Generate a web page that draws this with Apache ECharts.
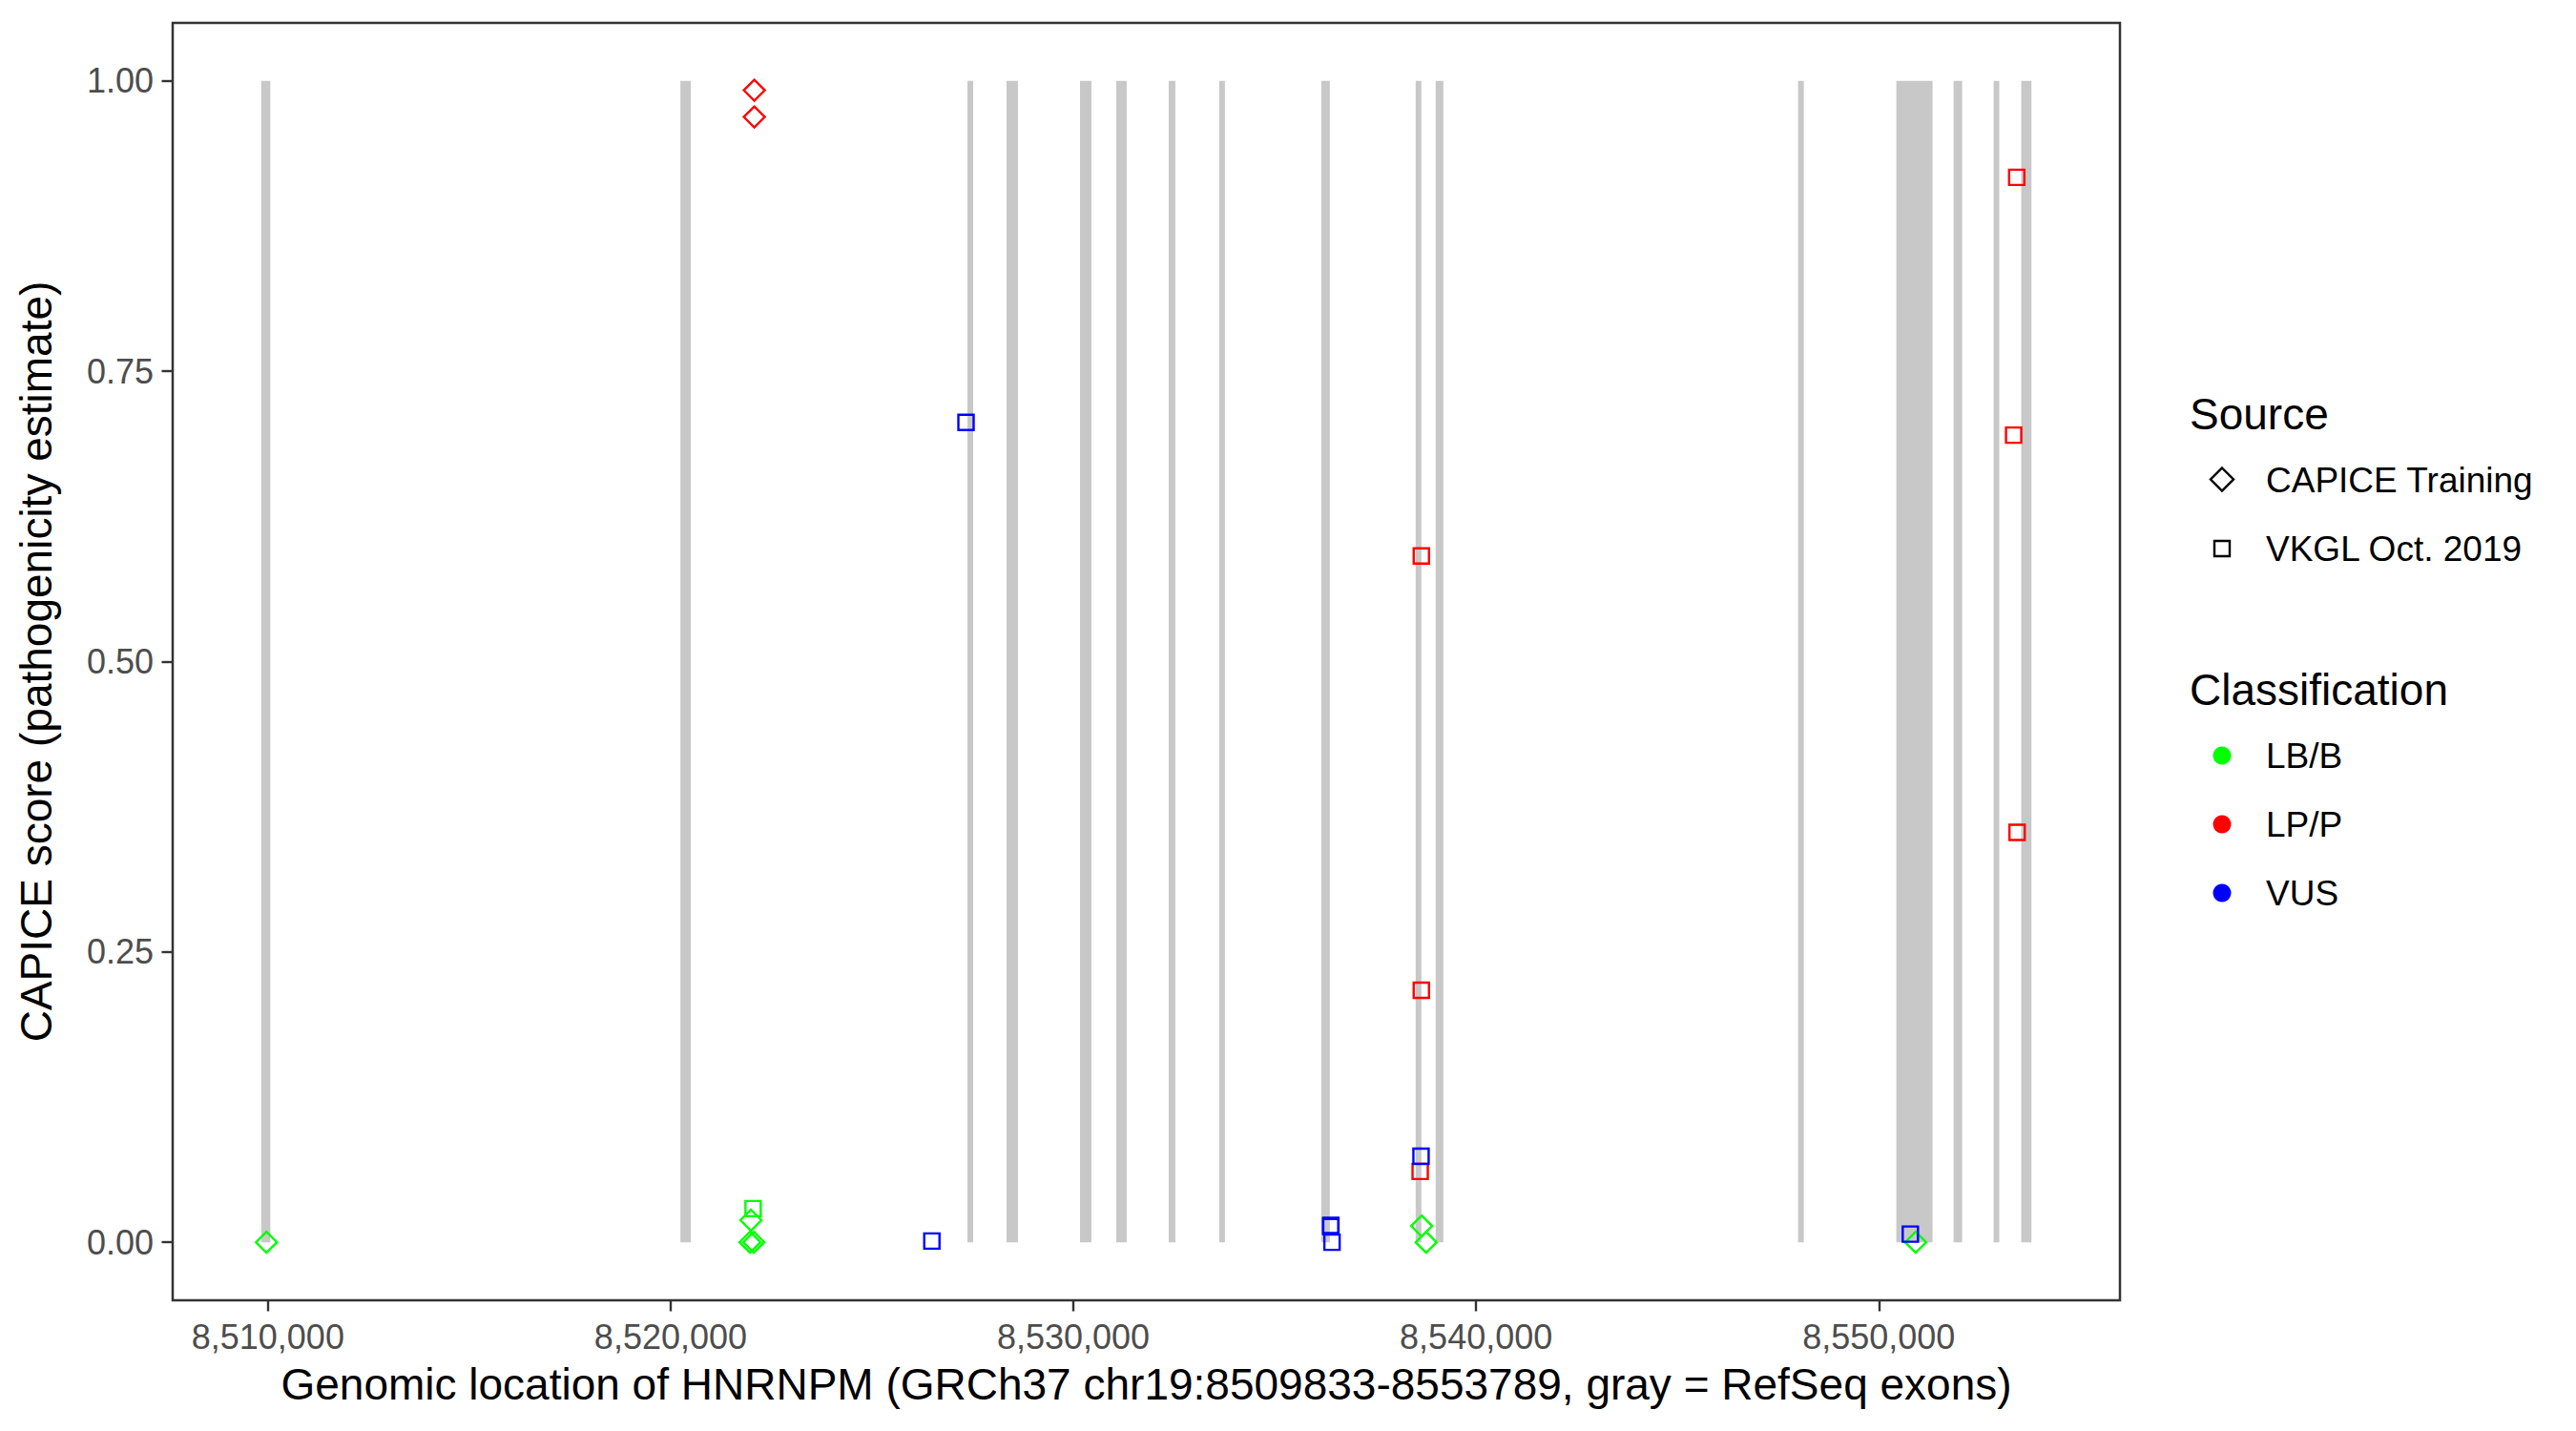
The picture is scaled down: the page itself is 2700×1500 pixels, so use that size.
<!DOCTYPE html>
<html>
<head>
<meta charset="utf-8">
<title>HNRNPM CAPICE scores</title>
<script src="https://cdn.jsdelivr.net/npm/echarts@6/dist/echarts.min.js"></script>
<style>
    html, body { margin: 0; padding: 0; background: #ffffff; }
    #chart { width: 2700px; height: 1500px; }
</style>
</head>
<body>
<div id="chart"></div>
<script>
// RefSeq exons (bp)
const exonStart = [8509833, 8520242, 8527369, 8528340, 8530164, 8531063, 8532366, 8533621,
    8536155, 8538499, 8538996, 8547995, 8550434, 8551855, 8552849, 8553536];
const exonEnd = [8510060, 8520502, 8527511, 8528624, 8530448, 8531324, 8532532, 8533763,
    8536368, 8538641, 8539186, 8548137, 8551334, 8552068, 8552991, 8553789];

// CAPICE Training (diamonds)
const capiceBenignPos = [8509964, 8521970, 8522065, 8521994, 8538648, 8538759, 8550914];
const capiceBenignScore = [0.0, 0.0, 0.0, 0.019, 0.014, 0.0, 0.0];
const capicePathoPos = [8522077, 8522077];
const capicePathoScore = [0.992, 0.969];

// VKGL Oct. 2019 (squares)
const vkglBenignPos = [8522047];
const vkglBenignScore = [0.029];
const vkglPathoPos = [8538611, 8538640, 8538640, 8553424, 8553347, 8553433];
const vkglPathoScore = [0.061, 0.591, 0.217, 0.917, 0.695, 0.353];
const vkglVusPos = [8526486, 8527334, 8536392, 8536392, 8536422, 8538632, 8550782];
const vkglVusScore = [0.001, 0.706, 0.0145, 0.0135, 0.0, 0.074, 0.007];

const xTicks = [8510000, 8520000, 8530000, 8540000, 8550000];
const yTicks = [0, 0.25, 0.5, 0.75, 1];

const geneStart = 8509833;
const geneEnd = 8553789;

const colors = { "LB/B": "#00FF00", "LP/P": "#FF0000", "VUS": "#0000FF" };
const font = "'Liberation Sans', Arial, Helvetica, sans-serif";

const pad = (geneEnd - geneStart) * 0.05;

const zip = (xs, ys) => xs.map((x, i) => [x, ys[i]]);

const pointSeries = (name, symbol, size, color, xs, ys) => ({
    type: "scatter",
    name: name,
    symbol: symbol,
    symbolSize: size,
    itemStyle: { color: "rgba(0,0,0,0)", borderColor: color, borderWidth: 2.4, opacity: 1 },
    emphasis: { disabled: true },
    data: zip(xs, ys),
    z: 3
});

const chart = echarts.init(document.getElementById("chart"), null, { renderer: "svg" });

// legend drawn by hand, like ggplot's two guides
const legendX = 2295;
const keyX = 2329;
const labelX = 2375;

const graphics = [
    { type: "text", x: legendX, y: 434, style: { text: "Source", font: "46px " + font, fill: "#000", verticalAlign: "middle" } },
    { type: "polygon", shape: { points: [[keyX, 490.5], [keyX + 12, 502.5], [keyX, 514.5], [keyX - 12, 502.5]] },
        style: { fill: "none", stroke: "#000", lineWidth: 2.4 } },
    { type: "text", x: labelX, y: 503, style: { text: "CAPICE Training", font: "37px " + font, fill: "#000", verticalAlign: "middle" } },
    { type: "rect", shape: { x: keyX - 8, y: 567, width: 16, height: 16 },
        style: { fill: "none", stroke: "#000", lineWidth: 2.4 } },
    { type: "text", x: labelX, y: 575, style: { text: "VKGL Oct. 2019", font: "37px " + font, fill: "#000", verticalAlign: "middle" } },
    { type: "text", x: legendX, y: 723, style: { text: "Classification", font: "46px " + font, fill: "#000", verticalAlign: "middle" } }
];
[["LB/B", 792], ["LP/P", 864], ["VUS", 936]].forEach(([label, y]) => {
    graphics.push({ type: "circle", shape: { cx: keyX, cy: y, r: 9.5 }, style: { fill: colors[label] } });
    graphics.push({ type: "text", x: labelX, y: y, style: { text: label, font: "37px " + font, fill: "#000", verticalAlign: "middle" } });
});

const option = {
    animation: false,
    backgroundColor: "#ffffff",
    textStyle: { fontFamily: font },
    grid: {
        left: 181,
        right: 478,
        top: 24,
        bottom: 137,
        show: true,
        borderColor: "#333333",
        borderWidth: 2.5,
        backgroundColor: "#ffffff"
    },
    xAxis: {
        type: "value",
        min: geneStart - pad,
        max: geneEnd + pad,
        name: "Genomic location of HNRNPM (GRCh37 chr19:8509833-8553789, gray = RefSeq exons)",
        nameLocation: "middle",
        nameGap: 65,
        nameTextStyle: { fontSize: 46, color: "#000", fontFamily: font },
        axisLine: { show: false, onZero: false },
        splitLine: { show: false },
        axisTick: {
            show: true,
            customValues: xTicks,
            length: 11.5,
            lineStyle: { color: "#333333", width: 2.4 }
        },
        axisLabel: {
            customValues: xTicks,
            margin: 20,
            fontSize: 36,
            color: "#4D4D4D",
            fontFamily: font,
            formatter: v => v.toLocaleString("en-US")
        }
    },
    yAxis: {
        type: "value",
        min: -0.05,
        max: 1.05,
        name: "CAPICE score (pathogenicity estimate)",
        nameLocation: "middle",
        nameGap: 120,
        nameTextStyle: { fontSize: 46, color: "#000", fontFamily: font },
        axisLine: { show: false, onZero: false },
        splitLine: { show: false },
        axisTick: {
            show: true,
            customValues: yTicks,
            length: 11.5,
            lineStyle: { color: "#333333", width: 2.4 }
        },
        axisLabel: {
            customValues: yTicks,
            margin: 20,
            fontSize: 36,
            color: "#4D4D4D",
            fontFamily: font,
            formatter: v => v.toFixed(2)
        }
    },
    graphic: graphics,
    series: [
        {
            type: "custom",
            name: "exons",
            silent: true,
            z: 1,
            encode: { x: [0, 1] },
            data: zip(exonStart, exonEnd),
            renderItem: (params, api) => {
                const top = api.coord([api.value(0), 1]);
                const bottom = api.coord([api.value(1), 0]);
                return {
                    type: "rect",
                    shape: { x: top[0], y: top[1], width: bottom[0] - top[0], height: bottom[1] - top[1] },
                    style: { fill: "#C8C8C8" }
                };
            }
        },
        pointSeries("CAPICE Training LB/B", "diamond", 22, colors["LB/B"], capiceBenignPos, capiceBenignScore),
        pointSeries("CAPICE Training LP/P", "diamond", 22, colors["LP/P"], capicePathoPos, capicePathoScore),
        pointSeries("VKGL LB/B", "rect", 16, colors["LB/B"], vkglBenignPos, vkglBenignScore),
        pointSeries("VKGL LP/P", "rect", 16, colors["LP/P"], vkglPathoPos, vkglPathoScore),
        pointSeries("VKGL VUS", "rect", 16, colors["VUS"], vkglVusPos, vkglVusScore)
    ]
};

chart.setOption(option);
</script>
</body>
</html>
